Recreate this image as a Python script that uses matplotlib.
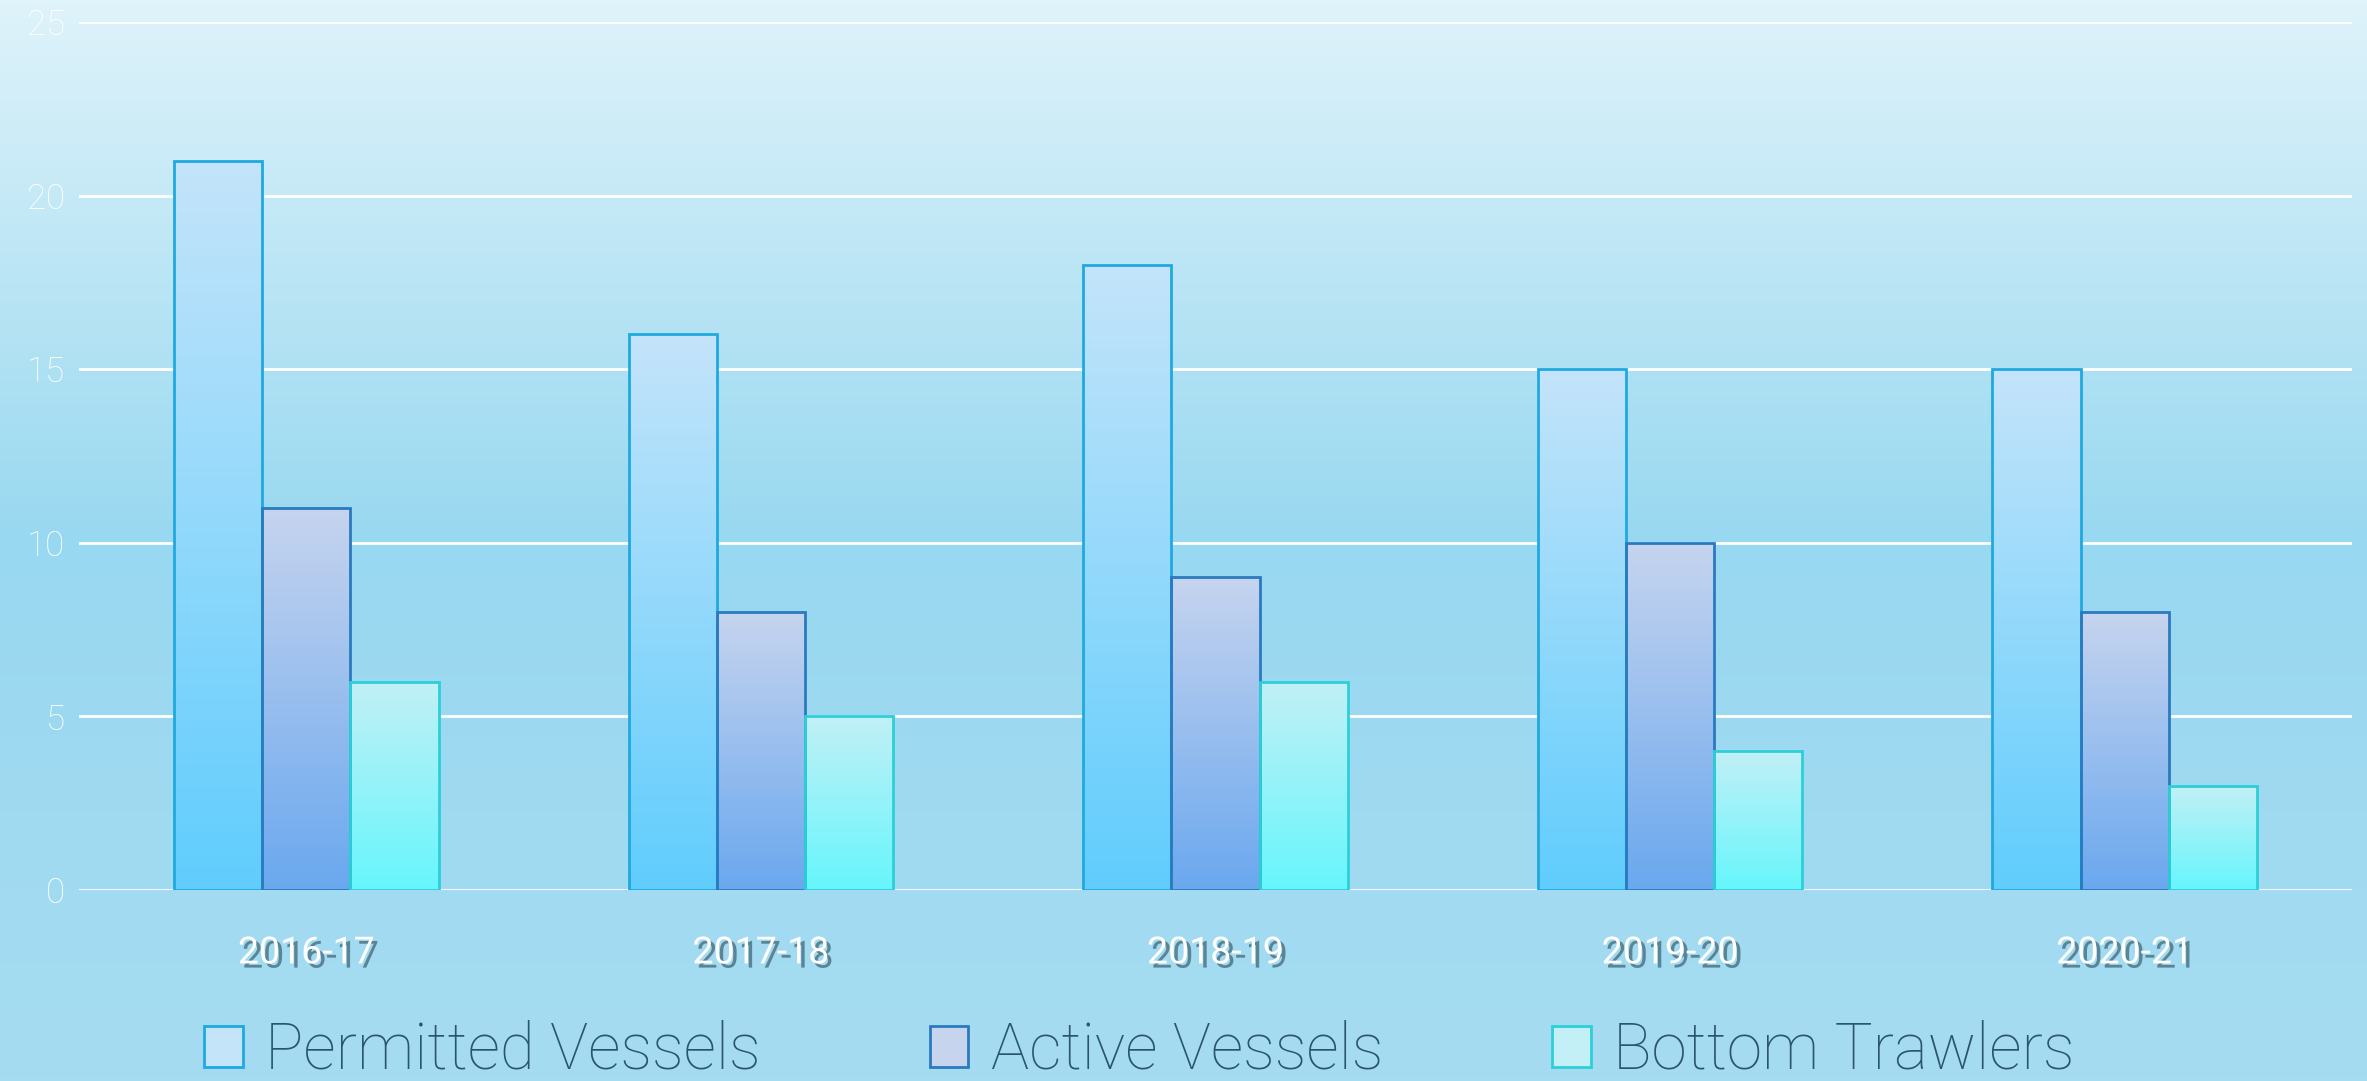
import numpy as np
import matplotlib.pyplot as plt
import matplotlib.patheffects as pe
from matplotlib.patches import Patch
from matplotlib.colors import LinearSegmentedColormap

seasons = ['2016-17', '2017-18', '2018-19', '2019-20', '2020-21']
permitted = [21, 16, 18, 15, 15]
active = [11, 8, 9, 10, 8]
trawlers = [6, 5, 6, 4, 3]

series = [
    ('Permitted Vessels', permitted, '#c4e4fa', '#60cdfd', '#1fa9e0'),
    ('Active Vessels', active, '#c6d4ee', '#6aa8ef', '#2a7ac0'),
    ('Bottom Trawlers', trawlers, '#c2f0f6', '#66f6fc', '#2ccfd8'),
]

plt.rcParams['font.family'] = ['Roboto', 'DejaVu Sans']

fig = plt.figure(figsize=(23.67, 10.81), dpi=100)

# background gradient
bg = fig.add_axes([0, 0, 1, 1], zorder=-10)
bg_cmap = LinearSegmentedColormap.from_list('bg', ['#dff3fa', '#98d8f0', '#a6dcf2'])
grad = np.linspace(0, 1, 256).reshape(-1, 1)
bg.imshow(grad, aspect='auto', cmap=bg_cmap, extent=[0, 1, 0, 1], origin='upper')
bg.axis('off')

ax = fig.add_axes([0.0334, 0.1767, 0.9603, 0.803])
ax.patch.set_alpha(0)
x = np.arange(len(seasons))
w = 0.194

for i, (name, vals, top, bot, edge) in enumerate(series):
    cmap = LinearSegmentedColormap.from_list(name, [bot, top])
    bars = ax.bar(x + (i - 1) * w, vals, w, facecolor='none', edgecolor=edge,
                  linewidth=2, zorder=3)
    for b in bars:
        x0, y0 = b.get_x(), b.get_y()
        x1, y1 = x0 + b.get_width(), y0 + b.get_height()
        g = np.linspace(0, 1, 256).reshape(-1, 1)
        im = ax.imshow(g, aspect='auto', cmap=cmap, origin='lower',
                       extent=[x0, x1, y0, y1], zorder=2, vmin=0, vmax=1)
        im.set_clip_path(b)

ax.set_xlim(-0.5, len(seasons) - 0.5)
ax.set_ylim(0, 25)
ax.set_yticks(range(0, 26, 5))
ax.yaxis.grid(True, color='white', linewidth=2)
ax.set_axisbelow(True)
for s in ax.spines.values():
    s.set_visible(False)
ax.tick_params(axis='both', length=0)
ax.tick_params(axis='y', labelsize=25, labelcolor='white', pad=10)
for t in ax.get_yticklabels():
    t.set_fontweight('light')

ax.set_xticks(x)
ax.set_xticklabels(seasons, fontsize=27, color='white')
ax.tick_params(axis='x', pad=32)
for t in ax.get_xticklabels():
    t.set_path_effects([pe.withSimplePatchShadow(offset=(3, -3), shadow_rgbFace='#4f7585', alpha=0.85)])

handles = [Patch(facecolor=top, edgecolor=edge, linewidth=2) for _, _, top, _, edge in series]
leg = fig.legend(handles, [s[0] for s in series], loc='lower left',
                 bbox_to_anchor=(0.062, -0.054), ncol=3, frameon=False,
                 fontsize=46, labelcolor='#2a5570', columnspacing=2.65,
                 handlelength=0.6, handleheight=0.6, handletextpad=0.35)
for t in leg.get_texts():
    t.set_fontweight('light')

fig.savefig('out.png', dpi=100)
